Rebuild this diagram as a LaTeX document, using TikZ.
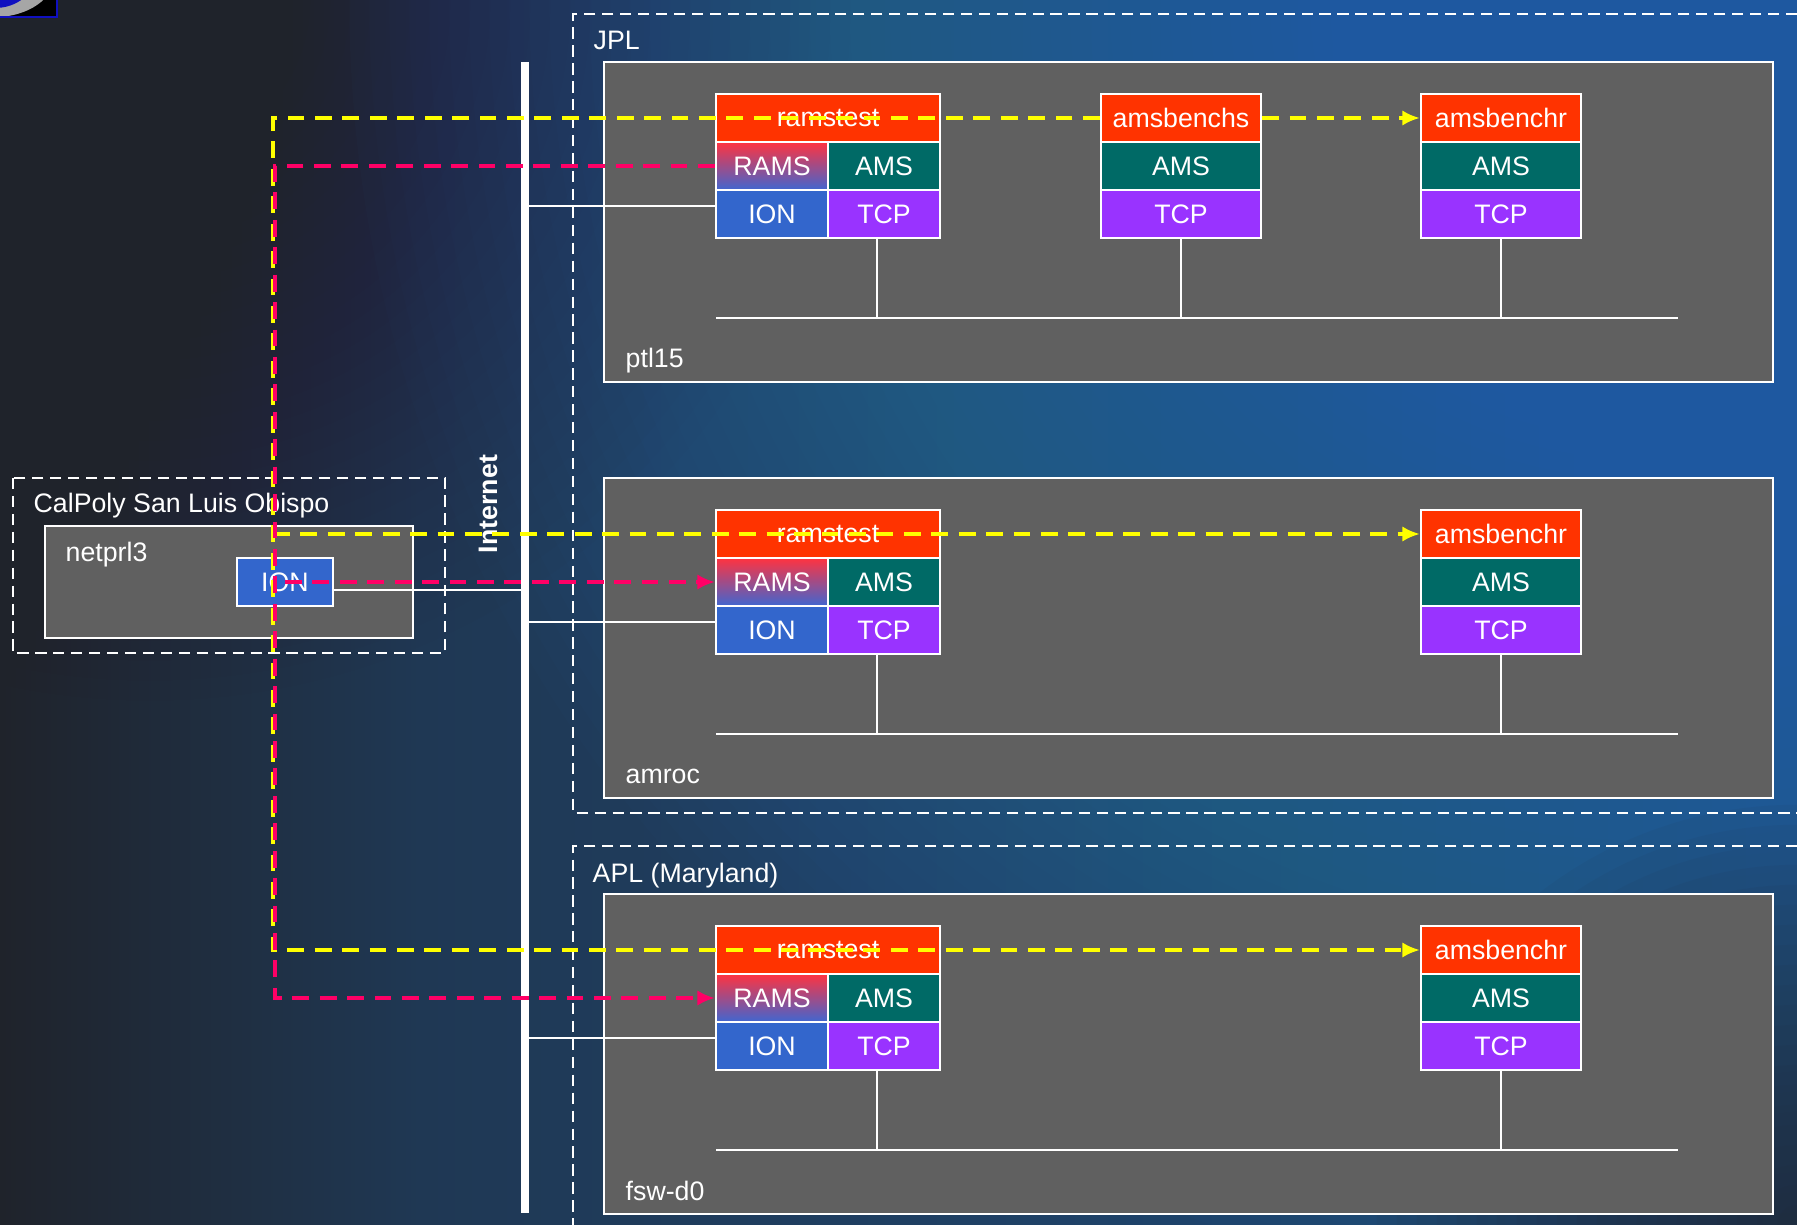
\documentclass[tikz,border=0pt]{standalone}
\usepackage{fontspec}
\setmainfont{Liberation Sans}
\usetikzlibrary{arrows.meta}
\definecolor{bgdark}{HTML}{1F232B}
\definecolor{bgmid}{HTML}{1F3854}
\definecolor{bgblue}{HTML}{1E4C7C}
\definecolor{glow}{HTML}{3F8AD2}
\definecolor{hostgrey}{HTML}{606060}
\definecolor{hdrred}{HTML}{FF3300}
\definecolor{amsteal}{HTML}{006A66}
\definecolor{tcppurple}{HTML}{9933FF}
\definecolor{ionblue}{HTML}{3366CC}
\definecolor{ramsred}{HTML}{FF3340}
\definecolor{ramsblue}{HTML}{4066D0}
\definecolor{amsyellow}{HTML}{FFFF00}
\definecolor{ramsmag}{HTML}{FF0066}
\definecolor{logoblue}{HTML}{1010C0}
\begin{document}
\begin{tikzpicture}[x=0.01cm, y=-0.01cm,
		>={Latex[length=5pt,width=4.4pt]},   %Pfeilspitzen
		font=\fontsize{7.6}{9}\selectfont,
		cell/.style={draw=white, line width=0.6pt, inner sep=0pt, text=white, minimum height=0.48cm},
		hdr/.style={cell, fill=hdrred},
		ramscell/.style={cell, top color=ramsred, bottom color=ramsblue, minimum width=1.12cm},
		amscell/.style={cell, fill=amsteal},
		ioncell/.style={cell, fill=ionblue, minimum width=1.12cm},
		tcpcell/.style={cell, fill=tcppurple},
		host/.style={draw=white, line width=0.6pt, fill=hostgrey, inner sep=0pt},
		lbl/.style={anchor=base west, inner sep=0pt, text=white},
		wire/.style={draw=white, line width=0.5pt},
		zone/.style={draw=white, line width=0.6pt, dash pattern=on 3.2pt off 1.9pt},
		amsmsg/.style={draw=amsyellow, line width=1.15pt, dash pattern=on 4.8pt off 3pt},
		ramsmsg/.style={draw=ramsmag, line width=1.15pt, dash pattern=on 4.8pt off 3pt}]
	\useasboundingbox (0,0) rectangle (1797,1225);
	% Hintergrund
	\shade[left color=bgdark, right color=bgmid] (0,0) rectangle (421,1225);
	\shade[left color=bgmid, right color=bgblue] (420,0) rectangle (1797,1225);
	\begin{scope}
		\clip (0,0) rectangle (1797,1225);
		\foreach \r in {7,6.8,...,0.4} \fill[bgdark, opacity=0.025] (150,0) circle [radius=\r cm];
		\foreach \r in {13,12.8,...,0.4} \fill[glow, opacity=0.018] (1650,0) circle [radius=\r cm];
		\foreach \r in {4.2,4,...,0.2} \fill[bgdark, opacity=0.05] (1797,1225) circle [radius=\r cm];
	\end{scope}
	% Logo (angeschnitten)
	\begin{scope}
		\clip (0,0) rectangle (57,17);
		\fill[black] (0,0) rectangle (57,17);
		\fill[gray!70] (-5,-25) ellipse [x radius=0.6cm, y radius=0.42cm];
		\fill[logoblue] (-5,-25) ellipse [x radius=0.4cm, y radius=0.33cm];
	\end{scope}
	\draw[logoblue, line width=0.5pt] (0,17) -- (57,17) -- (57,0);
	% Standorte
	\draw[zone] (1797,14) -- (573,14) -- (573,813) -- (1797,813);
	\node[lbl] (jpl) at (593,50) {JPL};
	\draw[zone] (1797,846) -- (573,846) -- (573,1225);
	\node[lbl] (apl) at (592,882) {APL (Maryland)};
	% Internet
	\draw[white, line width=2.3pt] (525,62) -- (525,1213);
	\node[text=white, font=\fontsize{7.6}{9}\selectfont\bfseries, rotate=90, inner sep=0pt] (inet) at (488,504) {Internet};
	% Rechner
	\foreach \h/\dy/\name in {p/0/ptl15, a/416/amroc, f/832/fsw-d0} {
		\node[host, minimum width=11.69cm, minimum height=3.2cm] (\h-box) at (1188.5,222+\dy) {};
		\node[lbl] (\h-name) at (625,368+\dy) {\name};
		% ramstest
		\node[hdr, minimum width=2.24cm] (\h-t) at (828,118+\dy) {ramstest};
		\node[ramscell] (\h-rams) at (772,166+\dy) {RAMS};
		\node[amscell, minimum width=1.12cm] (\h-tams) at (884,166+\dy) {AMS};
		\node[ioncell] (\h-ion) at (772,214+\dy) {ION};
		\node[tcpcell, minimum width=1.12cm] (\h-ttcp) at (884,214+\dy) {TCP};
		% amsbenchr
		\node[hdr, minimum width=1.6cm] (\h-r) at (1501,118+\dy) {amsbenchr};
		\node[amscell, minimum width=1.6cm] (\h-rams2) at (1501,166+\dy) {AMS};
		\node[tcpcell, minimum width=1.6cm] (\h-rtcp) at (1501,214+\dy) {TCP};
		% LAN
		\coordinate (\h-lanL) at (716,318+\dy);
		\coordinate (\h-lanR) at (1678,318+\dy);
		\draw[wire, line width=0.6pt] (\h-lanL) -- (\h-lanR);
		\draw[wire] ([xshift=-0.07cm]\h-ttcp.south) -- ([xshift=-0.07cm]\h-ttcp.south |- \h-lanL);
		\draw[wire] (\h-rtcp.south) -- (\h-rtcp.south |- \h-lanL);
		% Anschluss ans Internet
		\coordinate (net-\h) at (529,206+\dy);
		\draw[wire] (net-\h) -- (net-\h -| \h-ion.west);
	}
	% amsbenchs nur auf ptl15
	\node[hdr, minimum width=1.6cm] (p-s) at (1181,118) {amsbenchs};
	\node[amscell, minimum width=1.6cm] (p-sams) at (1181,166) {AMS};
	\node[tcpcell, minimum width=1.6cm] (p-stcp) at (1181,214) {TCP};
	\draw[wire] (p-stcp.south) -- (p-stcp.south |- p-lanL);
	% CalPoly
	\draw[zone] (13,478) rectangle (445,653);
	\node[lbl] (cp-name) at (33,513) {CalPoly San Luis Obispo};
	\node[host, minimum width=3.68cm, minimum height=1.12cm] (cp-box) at (229,582) {};
	\node[lbl] (cp-host) at (65,562) {netprl3};
	\node[ioncell, minimum width=0.96cm] (cp-ion) at (285,582) {ION};
	\coordinate (net-cp) at (521,590);
	\draw[wire] (cp-ion.east |- net-cp) -- (net-cp);
	% AMS-Nachrichten (gelb)
	\coordinate (y-top) at (273,118);
	\coordinate (y-mid) at (y-top |- a-r.west);
	\coordinate (y-bot) at (y-top |- f-r.west);
	\draw[amsmsg, ->] (p-s.west) -- (y-top) -- (y-bot) -- (f-r.west);
	\draw[amsmsg, ->] (p-s.east) -- (p-r.west);
	\draw[amsmsg, ->] (y-mid) -- (a-r.west);
	% RAMS-Nachrichten (magenta)
	\coordinate (m-top) at (275,166);
	\coordinate (m-bot) at (m-top |- f-rams.west);
	\draw[ramsmsg, ->] (p-rams.west) -- (m-top) -- (m-bot) -- (f-rams.west);
	\draw[ramsmsg, ->] (cp-ion.center) -- (a-rams.west);
\end{tikzpicture}
\end{document}
